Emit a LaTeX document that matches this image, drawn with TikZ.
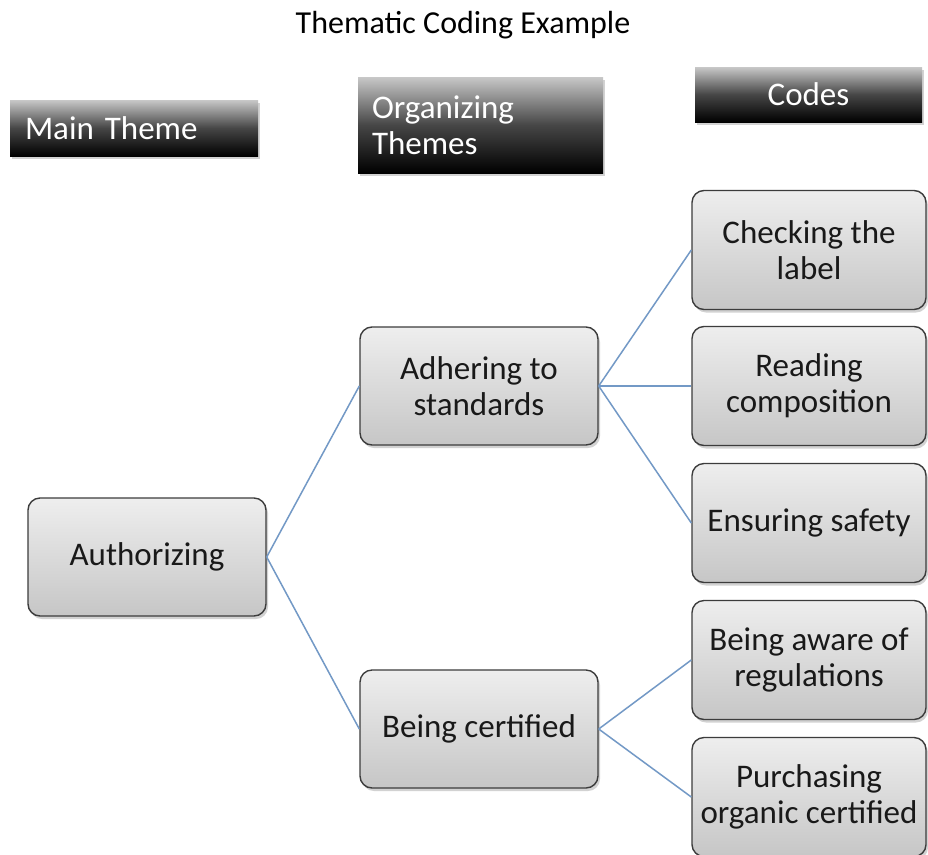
\documentclass[tikz,border=0pt]{standalone}
\usepackage{fontspec}
\setmainfont{Carlito}
\usetikzlibrary{shadows}
\definecolor{linkblue}{RGB}{115,153,198}
\definecolor{boxtop}{RGB}{238,238,238}
\definecolor{boxbot}{RGB}{198,198,198}
\definecolor{boxedge}{RGB}{60,60,60}
\definecolor{headtop}{RGB}{200,200,200}
\definecolor{headmid}{RGB}{70,70,70}
\tikzset{
  codebox/.style={draw=boxedge, line width=1.4pt, rounded corners=12pt,
    top color=boxtop, bottom color=boxbot,
    drop shadow={shadow xshift=2pt, shadow yshift=-3pt, opacity=0.35},
    align=center, inner sep=2pt, font=\fontsize{33}{36}\selectfont, text=black!90},
  headbox/.style={top color=headtop, bottom color=black, middle color=headmid,
    drop shadow={shadow xshift=2pt, shadow yshift=-3pt, opacity=0.35},
    font=\fontsize{33}{38}\selectfont, text=white, inner ysep=0pt},
  link/.style={draw=linkblue, line width=1.5pt}
}
\begin{document}
\begin{tikzpicture}[x=1pt,y=-1pt]
\clip (0,0) rectangle (928,854);
\fill[white] (0,0) rectangle (928,854);

\node[font=\fontsize{32}{36}\selectfont] (title) at (463,25) {Thematic Coding Example};

\node[headbox, minimum height=56pt, inner xsep=15pt, text width=218pt, align=left] (mainH) at (134,128) {Main Theme};
\node[headbox, minimum height=96pt, inner xsep=14pt, text width=217pt, align=left] (orgH) at (480.5,125) {Organizing\\[-2pt]Themes};
\node[headbox, minimum height=55pt, minimum width=227pt, align=center, inner xsep=0pt] (codesH) at (808.5,94.5) {Codes};

\node[codebox, minimum width=238pt, minimum height=118pt] (auth) at (147,557) {Authorizing};
\node[codebox, minimum width=238pt, minimum height=118pt] (adh) at (479,386) {Adhering to\\standards};
\node[codebox, minimum width=238pt, minimum height=118pt] (cert) at (479,729) {Being certified};

\node[codebox, minimum width=234pt, minimum height=119pt] (chk) at (809,250) {Checking the\\label};
\node[codebox, minimum width=234pt, minimum height=119pt] (read) at (809,386) {Reading\\composition};
\node[codebox, minimum width=234pt, minimum height=119pt] (ens) at (809,523) {Ensuring safety};
\node[codebox, minimum width=234pt, minimum height=119pt] (aware) at (809,660) {Being aware of\\regulations};
\node[codebox, minimum width=234pt, minimum height=119pt] (purch) at (809,797) {Purchasing\\organic certified};

\draw[link] (auth.east) -- (adh.west);
\draw[link] (auth.east) -- (cert.west);
\draw[link] (adh.east) -- (chk.west);
\draw[link] (adh.east) -- (read.west);
\draw[link] (adh.east) -- (ens.west);
\draw[link] (cert.east) -- (aware.west);
\draw[link] (cert.east) -- (purch.west);
\end{tikzpicture}
\end{document}
